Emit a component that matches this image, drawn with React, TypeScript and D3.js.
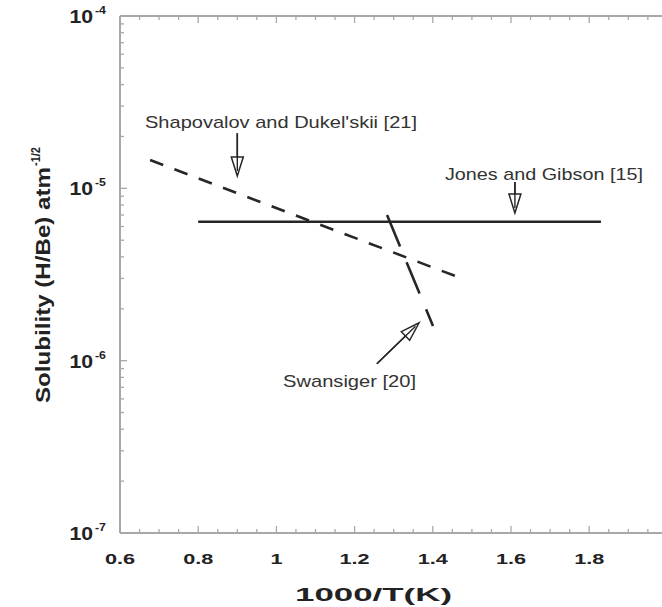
import React from 'react';
import * as d3 from 'd3';

// ---- data ----
const xTickValues = [0.6, 0.8, 1, 1.2, 1.4, 1.6, 1.8];
const xTickLabels = ['0.6', '0.8', '1', '1.2', '1.4', '1.6', '1.8'];
const yDecadeExponents = [-7, -6, -5, -4];

const jonesX = [0.8, 1.83];
const jonesY = [6.4e-6, 6.4e-6];
const shapovalovX = [0.677, 1.1, 1.464];
const shapovalovY = [1.46e-5, 6.3e-6, 3.06e-6];
const swansigerX = [1.283, 1.4005];
const swansigerY = [7.0e-6, 1.59e-6];

const annotationTexts = ["Shapovalov and Dukel'skii [21]", 'Jones and Gibson [15]', 'Swansiger [20]'];
const annotationTextX = [0.664, 1.431, 1.017];
const annotationTextY = [2.24e-5, 1.12e-5, 7.0e-7];
const arrowFromX = [0.9, 1.61, 1.257];
const arrowFromY = [2.09e-5, 1.09e-5, 9.6e-7];
const arrowToX = [0.9, 1.61, 1.365];
const arrowToY = [1.18e-5, 7.2e-6, 1.66e-6];

const xLabel = '1000/T(K)';
const yLabelMain = 'Solubility (H/Be) atm';
const yLabelSup = '-1/2';

// ---- layout ----
const W = 662;
const H = 607;
const LEFT = 120;
const TOP = 16;
const BOTTOM = 533;
const PX_PER_UNIT = 391;
const FONT = '"Liberation Sans", Arial, Helvetica, sans-serif';
const annotationWidths = [272, 198, 133];

export default function App() {
  const x = d3.scaleLinear().domain([0.6, 2.0]).range([LEFT, LEFT + 1.4 * PX_PER_UNIT]);
  const y = d3.scaleLog().domain([1e-7, 1e-4]).range([BOTTOM, TOP]);

  const line = d3
    .line<[number, number]>()
    .x((d) => x(d[0]))
    .y((d) => y(d[1]));

  const zip = (xs: number[], ys: number[]) => xs.map((v, i) => [v, ys[i]] as [number, number]);

  const minorX = d3.range(0.6, 2.0001, 0.05).map((v) => Math.round(v * 100) / 100);
  const isMajorX = (v: number) => Math.abs(v * 5 - Math.round(v * 5)) < 1e-6;

  const yTicks: { v: number; major: boolean }[] = [];
  for (let e = -7; e < -4; e++) {
    for (let m = 1; m <= 9; m++) yTicks.push({ v: m * Math.pow(10, e), major: m === 1 });
  }
  yTicks.push({ v: 1e-4, major: true });

  const axisColor = '#a8a8a8';
  const inkColor = '#262626';
  const xEnd = W;

  const arrows = arrowFromX.map((_, i) => {
    const x0 = x(arrowFromX[i]);
    const y0 = y(arrowFromY[i]);
    const x1 = x(arrowToX[i]);
    const y1 = y(arrowToY[i]);
    const dx = x1 - x0;
    const dy = y1 - y0;
    const len = Math.hypot(dx, dy);
    const ux = dx / len;
    const uy = dy / len;
    const nx = -uy;
    const ny = ux;
    const L = 19;
    const hw = 6;
    const bx = x1 - ux * L;
    const by = y1 - uy * L;
    const head = `M${x1},${y1}L${bx + nx * hw},${by + ny * hw}L${bx - nx * hw},${by - ny * hw}Z`;
    return { x0, y0, sx: x1 - ux * 5, sy: y1 - uy * 5, head };
  });

  return (
    <svg
      width={W}
      height={H}
      style={{ position: 'absolute', left: 0, top: 0, background: '#fff' }}
      fontFamily={FONT}
    >
      <rect x={0} y={0} width={W} height={H} fill="#fff" />

      {/* axes lines */}
      <line x1={LEFT} x2={LEFT} y1={TOP} y2={BOTTOM} stroke={axisColor} strokeWidth={2} />
      <line x1={LEFT} x2={xEnd} y1={BOTTOM} y2={BOTTOM} stroke={axisColor} strokeWidth={2} />
      <line x1={LEFT} x2={xEnd} y1={TOP} y2={TOP} stroke={axisColor} strokeWidth={2} />

      {/* x ticks (bottom & top, inward) */}
      {minorX.map((v) => {
        const len = isMajorX(v) ? 7 : 4;
        const px = x(v);
        if (px > W) return null;
        return (
          <g key={'xt' + v}>
            <line x1={px} x2={px} y1={BOTTOM} y2={BOTTOM - len} stroke={axisColor} strokeWidth={1.3} />
            <line x1={px} x2={px} y1={TOP} y2={TOP + len} stroke={axisColor} strokeWidth={1.3} />
          </g>
        );
      })}

      {/* y ticks (left, inward) */}
      {yTicks.map((t, i) => (
        <line
          key={'yt' + i}
          x1={LEFT}
          x2={LEFT + (t.major ? 7 : 4)}
          y1={y(t.v)}
          y2={y(t.v)}
          stroke={axisColor}
          strokeWidth={1.3}
        />
      ))}

      {/* x tick labels */}
      {xTickValues.map((v, i) => (
        <text
          key={'xl' + v}
          transform={`translate(${x(v)},${BOTTOM + 31}) scale(1.4,1)`}
          textAnchor="middle"
          fontSize={15.5}
          fontWeight="bold"
          fill="#222"
        >
          {xTickLabels[i]}
        </text>
      ))}

      {/* y tick labels */}
      {yDecadeExponents.map((e) => {
        const py = y(Math.pow(10, e));
        return (
          <g key={'yl' + e}>
            <text
              transform={`translate(93,${py + 7}) scale(1.18,1)`}
              textAnchor="end"
              fontSize={18}
              fontWeight="bold"
              fill="#222"
            >
              10
            </text>
            <text
              transform={`translate(95,${py - 2}) scale(1.12,1)`}
              textAnchor="start"
              fontSize={11}
              fontWeight="bold"
              fill="#222"
            >
              {String(e)}
            </text>
          </g>
        );
      })}

      {/* axis titles */}
      <text
        x={295}
        y={601}
        fontSize={18}
        fontWeight="bold"
        fill="#222"
        textLength={157}
        lengthAdjust="spacingAndGlyphs"
      >
        {xLabel}
      </text>
      <text
        transform={`translate(50,403) rotate(-90)`}
        fontSize={21}
        fontWeight="bold"
        fill="#222"
        textLength={236}
        lengthAdjust="spacingAndGlyphs"
      >
        {yLabelMain}
      </text>
      <text
        transform={`translate(40,166) rotate(-90)`}
        fontSize={13}
        fontWeight="bold"
        fill="#222"
        textLength={19}
        lengthAdjust="spacingAndGlyphs"
      >
        {yLabelSup}
      </text>

      {/* data lines */}
      <path d={line(zip(jonesX, jonesY)) || ''} fill="none" stroke={inkColor} strokeWidth={2.3} />
      <path
        d={line(zip(shapovalovX, shapovalovY)) || ''}
        fill="none"
        stroke={inkColor}
        strokeWidth={2.6}
        strokeDasharray="14,12"
      />
      <path
        d={line(zip(swansigerX, swansigerY)) || ''}
        fill="none"
        stroke={inkColor}
        strokeWidth={2.6}
        strokeDasharray="34,17"
      />

      {/* annotations */}
      {annotationTexts.map((t, i) => (
        <text
          key={'at' + i}
          x={x(annotationTextX[i])}
          y={y(annotationTextY[i])}
          fontSize={17}
          fill="#333"
          textLength={annotationWidths[i]}
          lengthAdjust="spacingAndGlyphs"
        >
          {t}
        </text>
      ))}
      {arrows.map((a, i) => (
        <g key={'ar' + i}>
          <line x1={a.x0} y1={a.y0} x2={a.sx} y2={a.sy} stroke={inkColor} strokeWidth={1.6} />
          <path d={a.head} fill="#fff" stroke={inkColor} strokeWidth={1.5} strokeLinejoin="miter" />
          <line x1={a.x0} y1={a.y0} x2={a.sx} y2={a.sy} stroke={inkColor} strokeWidth={1.4} />
        </g>
      ))}
    </svg>
  );
}
